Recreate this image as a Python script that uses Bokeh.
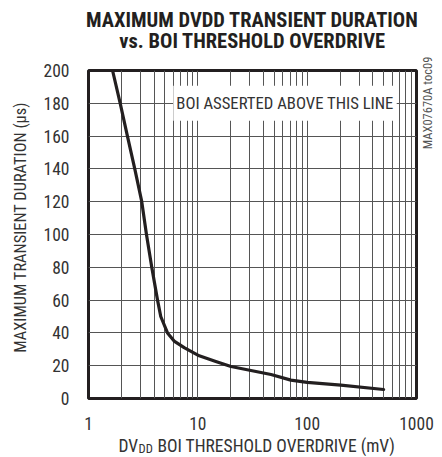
import math
from bokeh.plotting import figure
from bokeh.models import FixedTicker, Label, NumeralTickFormatter, Title, LinearAxis
from bokeh.embed import file_html
from bokeh.resources import INLINE

# ---- data ----
overdrive_mV = [1.66, 1.95, 2.27, 2.65, 3.07, 3.39, 3.79, 4.28, 4.58, 5.28, 6.07,
                7.5, 10.3, 14.6, 20.1, 30.6, 46.7, 71, 100, 203, 500]
duration_us = [200, 180, 160, 140, 120, 100, 80, 60, 50, 40, 35,
               31, 26.0, 22.5, 19.5, 17.1, 14.6, 11.2, 9.8, 8.1, 5.5]

x_major_ticks = [1, 10, 100, 1000]
x_grid_ticks = [m * d for d in (1, 10, 100) for m in range(1, 10)] + [1000]
y_ticks = list(range(0, 201, 20))

title_lines = ["MAXIMUM DVDD TRANSIENT DURATION", "vs. BOI THRESHOLD OVERDRIVE"]
y_label = "\u2003MAXIMUM TRANSIENT DURATION (\u03bcs)"
x_label_parts = ["DV", "DD", "BOI THRESHOLD OVERDRIVE (mV)"]
note_text = "BOI ASSERTED ABOVE THIS LINE"
note_pos = (62.7, 180)
code_text = "MAX07670A toc09"
code_y = 152

FONT = "Roboto Condensed"
INK = "#231f20"
TXT = "#333333"

p = figure(x_axis_type="log", x_range=(1, 1000), y_range=(0, 200),
           frame_width=328, frame_height=328,
           min_border_left=88, min_border_right=26,
           min_border_top=0, min_border_bottom=58,
           output_backend="svg", toolbar_location=None)

p.background_fill_color = "white"
p.border_fill_color = "white"
p.outline_line_color = INK
p.outline_line_width = 3

p.xaxis.ticker = FixedTicker(ticks=x_major_ticks)
p.xaxis.formatter = NumeralTickFormatter(format="0")
p.yaxis.ticker = FixedTicker(ticks=y_ticks)
for ax in (p.xaxis, p.yaxis):
    ax.axis_line_color = None
    ax.major_tick_line_color = None
    ax.minor_tick_line_color = None
    ax.major_tick_out = 0
    ax.major_tick_in = 0
    ax.major_label_text_font = FONT
    ax.major_label_text_font_size = "17.5px"
    ax.major_label_text_color = TXT
p.xaxis.major_label_standoff = 18
p.yaxis.major_label_standoff = 19

p.yaxis.axis_label = y_label
p.yaxis.axis_label_text_font = FONT
p.yaxis.axis_label_text_font_size = "16.4px"
p.yaxis.axis_label_text_font_style = "normal"
p.yaxis.axis_label_text_color = TXT
p.yaxis.axis_label_standoff = 11

p.xgrid.ticker = FixedTicker(ticks=x_grid_ticks)
p.ygrid.ticker = FixedTicker(ticks=y_ticks)
p.grid.grid_line_color = "#555555"
p.grid.grid_line_width = 1
p.grid.grid_line_alpha = 1

p.line(overdrive_mV, duration_us, line_color=INK, line_width=3.2,
       line_join="round", line_cap="round")

p.add_layout(Label(x=note_pos[0], y=note_pos[1], text=note_text,
                   text_align="center", text_baseline="middle",
                   text_font=FONT, text_font_size="16.7px", text_color=TXT,
                   background_fill_color="white", padding=(3, 8)))

# spacer + two-line title (first added sits nearest the frame)
p.add_layout(Title(text=" ", standoff=15.3, text_font=FONT, text_font_size="10px"), "above")
p.add_layout(Title(text=title_lines[1], align="center", standoff=-20.6,
                   text_font=FONT, text_font_size="20.5px", text_font_style="bold",
                   text_color=INK), "above")
p.add_layout(Title(text=title_lines[0], align="center", standoff=10.5,
                   text_font=FONT, text_font_size="20.5px", text_font_style="bold",
                   text_color=INK), "above")

# x-axis label with subscript: zero-height title rows below the axis
p.add_layout(Title(text=x_label_parts[0], align="left", offset=30, standoff=-47.4,
                   text_font=FONT, text_font_size="17.5px", text_font_style="normal",
                   text_color=TXT), "below")
p.add_layout(Title(text=x_label_parts[2], align="left", offset=69, standoff=-47.4,
                   text_font=FONT, text_font_size="17.5px", text_font_style="normal",
                   text_color=TXT), "below")
p.add_layout(Title(text=x_label_parts[1], align="left", offset=50, standoff=-47.5,
                   text_font=FONT, text_font_size="12.5px", text_font_style="normal",
                   text_color=TXT), "below")

# side code text on an extra right axis
code_axis = LinearAxis(ticker=FixedTicker(ticks=[code_y]),
                       major_label_overrides={code_y: code_text},
                       major_label_orientation=math.pi / 2,
                       axis_line_color=None, major_tick_line_color=None,
                       minor_tick_line_color=None, major_tick_out=0, major_tick_in=0,
                       major_label_standoff=11, major_label_text_font=FONT,
                       major_label_text_font_size="12.5px",
                       major_label_text_color="#555555")
p.add_layout(code_axis, "right")

open("out.html", "w").write(file_html(p, INLINE))
